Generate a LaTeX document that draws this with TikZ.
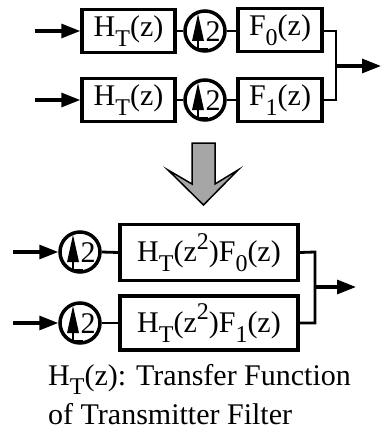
\documentclass[tikz,border=0pt]{standalone}
\usepackage{fontspec}
\setmainfont{Liberation Serif}
\usetikzlibrary{arrows.meta}
\newcommand\sbs[1]{\raisebox{-0.33em}{\fontsize{24}{24}\selectfont #1}}
\newcommand\sps[1]{\raisebox{0.42em}{\fontsize{24}{24}\selectfont #1}}
\begin{document}
\begin{tikzpicture}[x=1pt,y=-1pt,
  box/.style={draw,line width=3.5pt,inner sep=0pt,font=\fontsize{30}{30}\selectfont},
  upc/.style={draw,circle,line width=3.5pt,minimum size=40pt,inner sep=0pt},
  wire/.style={line width=2.8pt},
  sig/.style={line width=3.2pt,-{Triangle[length=19pt,width=14pt]}},
  lbl/.style={font=\fontsize{30}{34}\selectfont,inner sep=0pt,anchor=base west}]
\useasboundingbox (0,0) rectangle (381,436);
% upsampler glyph
\newcommand\upglyph[1]{%
  \draw[line width=2.2pt] ([xshift=-7pt,yshift=-9pt]#1.center) -- ([xshift=-7pt,yshift=-18pt]#1.center) -- ([xshift=3pt,yshift=-18pt]#1.center);
  \fill ([xshift=-7pt,yshift=17pt]#1.center) -- ([xshift=-13pt,yshift=-10pt]#1.center) -- ([xshift=-1pt,yshift=-10pt]#1.center) -- cycle;
  \node[inner sep=0pt,font=\fontsize{30}{30}\selectfont] at ([xshift=8pt,yshift=-1pt]#1.center) {2};}
% top rows
\node[box,minimum width=93pt,minimum height=43pt] (h1) at (128.5,31) {H\sbs{T}(z)};
\node[upc] (u1) at (205,31) {};
\node[box,minimum width=84pt,minimum height=43pt] (f0) at (280,30) {F\sbs{0}(z)};
\node[box,minimum width=93pt,minimum height=43pt] (h2) at (128.5,100) {H\sbs{T}(z)};
\node[upc] (u2) at (205,100) {};
\node[box,minimum width=84pt,minimum height=43pt] (f1) at (280,100) {F\sbs{1}(z)};
\upglyph{u1}\upglyph{u2}
\coordinate (i1) at (35,31);
\coordinate (i2) at (35,100);
\coordinate (j1) at (336,31);
\coordinate (j2) at (336,100);
\coordinate (jm) at (336,66);
\coordinate (o1) at (381,66);
\draw[sig] (i1) -- (h1.west);
\draw[sig] (i2) -- (h2.west);
\draw[wire] (h1.east) -- (u1.west);
\draw[wire] (u1.east) -- (f0.west |- u1.east);
\draw[wire] (h2.east) -- (u2.west);
\draw[wire] (u2.east) -- (f1.west);
\draw[wire] (f0.east |- j1) -- (j1) -- (j2) -- (f1.east);
\draw[sig] (jm) -- (o1);
% big down arrow
\path[draw,line width=1.5pt,fill=gray!70,line join=miter]
  (192,143) -- (215,143) -- (215,184) -- (238,170) -- (203.5,205) -- (168,170) -- (192,184) -- cycle;
% bottom rows
\node[upc] (u3) at (80,252) {};
\node[box,minimum width=178pt,minimum height=56pt] (a) at (209,252.5) {H\sbs{T}(z\sps{2})F\sbs{0}(z)};
\node[upc] (u4) at (80,323) {};
\node[box,minimum width=178pt,minimum height=54pt] (b) at (209,323) {H\sbs{T}(z\sps{2})F\sbs{1}(z)};
\upglyph{u3}\upglyph{u4}
\coordinate (i3) at (13,252);
\coordinate (i4) at (13,323);
\coordinate (k1) at (315,252);
\coordinate (k2) at (315,323);
\coordinate (km) at (315,287);
\coordinate (o2) at (356,287);
\draw[sig] (i3) -- (u3.west);
\draw[sig] (i4) -- (u4.west);
\draw[wire] (u3.east) -- (a.west);
\draw[wire] (u4.east) -- (b.west);
\draw[wire] (a.east) -- (k1) -- (k2) -- (b.east);
\draw[sig] (km) -- (o2);
% legend
\node[lbl] (l1) at (48,385) {H\sbs{T}(z): Transfer Function};
\node[lbl] (l2) at (48,424) {of Transmitter Filter};
\end{tikzpicture}
\end{document}
